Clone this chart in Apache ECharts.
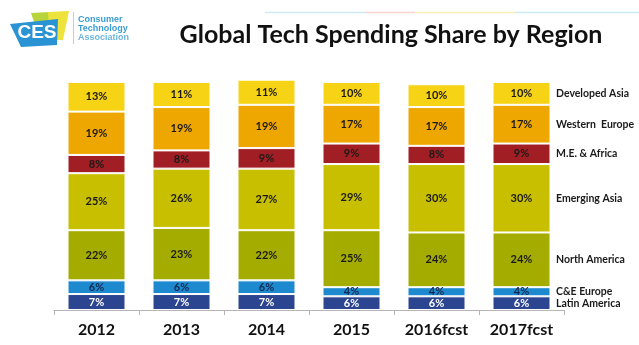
<!DOCTYPE html>
<html>
<head>
<meta charset="utf-8">
<style>
  html, body { margin: 0; padding: 0; background: #ffffff; }
  #chart { width: 639px; height: 345px; }
</style>
<script src="https://cdn.jsdelivr.net/npm/echarts@6/dist/echarts.min.js"></script>
</head>
<body>
<div id="chart"></div>
<script>
// Categories (years) and regional share values, bottom segment first
const years = ['2012', '2013', '2014', '2015', '2016fcst', '2017fcst'];
const latinAmerica  = [7, 7, 7, 6, 6, 6];
const ceEurope      = [6, 6, 6, 4, 4, 4];
const northAmerica  = [22, 23, 22, 25, 24, 24];
const emergingAsia  = [25, 26, 27, 29, 30, 30];
const meAfrica      = [8, 8, 9, 9, 8, 9];
const westernEurope = [19, 19, 19, 17, 17, 17];
const developedAsia = [13, 11, 11, 10, 10, 10];

const regionNames = ['Latin America', 'C&E Europe', 'North America', 'Emerging Asia',
                     'M.E. & Africa', 'Western  Europe', 'Developed Asia'];
const regionValues = [latinAmerica, ceEurope, northAmerica, emergingAsia,
                      meAfrica, westernEurope, developedAsia];
const regionColors = ['#2C4590', '#1D8AD0', '#A5AC00', '#C7BF00', '#A11F24', '#EEA700', '#F6D315'];
const labelColors  = ['#ffffff', '#14284f', '#1a1a1a', '#1a1a1a', '#1a1a1a', '#1a1a1a', '#1a1a1a'];

const FONT = 'Lato, "Open Sans", sans-serif';

const chart = echarts.init(document.getElementById('chart'), null, { renderer: 'canvas' });

const series = regionNames.map((name, i) => ({
  name: name,
  type: 'bar',
  stack: 'share',
  barWidth: 58,
  data: regionValues[i],
  itemStyle: { color: regionColors[i], borderColor: '#ffffff', borderWidth: 1 },
  label: {
    show: true,
    position: 'inside',
    formatter: '{c}%',
    color: labelColors[i],
    fontFamily: FONT,
    fontWeight: 'bold',
    fontSize: 11
  },
  emphasis: { disabled: true }
}));

chart.setOption({
  animation: false,
  backgroundColor: '#ffffff',
  grid: { left: 54, right: 75, top: 79.7, bottom: 35 },
  xAxis: {
    type: 'category',
    data: years,
    axisLine: { lineStyle: { color: '#b5b5b5', width: 1 } },
    axisTick: { show: true, length: 5, lineStyle: { color: '#b5b5b5' } },
    axisLabel: { color: '#111111', fontFamily: FONT, fontWeight: 'bold', fontSize: 16, margin: 12 }
  },
  yAxis: { type: 'value', min: 0, max: 101, show: false, splitLine: { show: false } },
  series: series
});

// Region names beside the last column, at each segment's centre
const last = years.length - 1;
const sideLabels = [];
let cum = 0;
regionValues.forEach((vals, i) => {
  const mid = cum + vals[last] / 2;
  cum += vals[last];
  const px = chart.convertToPixel({ gridIndex: 0 }, [last, mid]);
  sideLabels.push({
    type: 'text',
    x: 556,
    y: px[1],
    style: {
      text: regionNames[i],
      fill: '#1a1a1a',
      font: 'bold 10.5px ' + FONT,
      textVerticalAlign: 'middle'
    }
  });
});

// Header: thin coloured strip, logo and title
const header = [
  { type: 'line', shape: { x1: 265, y1: 12.5, x2: 365, y2: 12.5 }, style: { stroke: '#cfeaf5', lineWidth: 1.5 } },
  { type: 'line', shape: { x1: 365, y1: 12.5, x2: 415, y2: 12.5 }, style: { stroke: '#f8d3cf', lineWidth: 1.5 } },
  { type: 'line', shape: { x1: 415, y1: 12.5, x2: 515, y2: 12.5 }, style: { stroke: '#fbf0b8', lineWidth: 1.5 } },
  { type: 'line', shape: { x1: 515, y1: 12.5, x2: 639, y2: 12.5 }, style: { stroke: '#cdeaf4', lineWidth: 1.5 } },
  { type: 'polygon', shape: { points: [[31, 13], [50, 12], [48, 25], [35, 25]] }, style: { fill: '#B7D43A' } },
  { type: 'polygon', shape: { points: [[48, 12], [69, 11], [63, 40], [50, 40]] }, style: { fill: '#EEE33C' } },
  { type: 'polygon', shape: { points: [[10, 24], [58, 19], [57, 45], [21, 47]] }, style: { fill: '#2A93D3' } },
  { type: 'text', x: 37, y: 33, style: { text: 'CES', fill: '#ffffff', font: 'bold 19px "Liberation Sans", sans-serif', textAlign: 'center', textVerticalAlign: 'middle' } },
  { type: 'line', shape: { x1: 73.5, y1: 12, x2: 73.5, y2: 44 }, style: { stroke: '#cccccc', lineWidth: 1 } },
  { type: 'text', x: 78, y: 20, style: { text: 'Consumer', fill: '#3A9ECF', font: 'bold 9px "Liberation Sans", sans-serif', textVerticalAlign: 'middle' } },
  { type: 'text', x: 78, y: 29, style: { text: 'Technology', fill: '#3A9ECF', font: 'bold 9px "Liberation Sans", sans-serif', textVerticalAlign: 'middle' } },
  { type: 'text', x: 78, y: 38, style: { text: 'Association', fill: '#6DB7DC', font: 'bold 9px "Liberation Sans", sans-serif', textVerticalAlign: 'middle' } },
  { type: 'text', x: 391, y: 35, style: { text: 'Global Tech Spending Share by Region', fill: '#111111', font: 'bold 25px ' + FONT, textAlign: 'center', textVerticalAlign: 'middle' } }
];

chart.setOption({ graphic: header.concat(sideLabels) });
</script>
</body>
</html>
